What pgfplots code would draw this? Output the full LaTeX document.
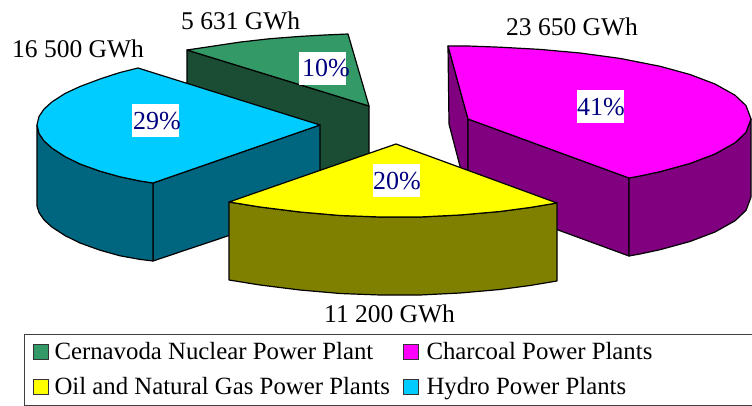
\documentclass[border=0pt]{standalone}
\usepackage{fontspec}
\setmainfont{Liberation Serif}
\usepackage{pgfplots}
\pgfplotsset{compat=1.18}
\definecolor{nuclear}{RGB}{51,153,102}
\definecolor{nucleardark}{RGB}{26,77,51}
\definecolor{charcoal}{RGB}{255,0,255}
\definecolor{charcoaldark}{RGB}{128,0,128}
\definecolor{oilgas}{RGB}{255,255,0}
\definecolor{oilgasdark}{RGB}{128,128,0}
\definecolor{hydro}{RGB}{0,204,255}
\definecolor{hydrodark}{RGB}{0,102,128}
\definecolor{pct}{RGB}{0,0,128}
\newcommand{\lbl}{\fontsize{25.5}{28}\selectfont}
\newcommand{\pctfont}{\fontsize{26}{28}\selectfont}
\newcommand{\legfont}{\fontsize{24.8}{28}\selectfont}
\pgfplotsset{
  slice/.style={draw=black, line width=1.2pt, line join=round, fill=#1, no markers, forget plot},
  pctbox/.style={draw=none, fill=white, no markers, forget plot},
  swatch/.style={legend image code/.code={
      \draw[draw=black!80, line width=1pt, fill=#1] (0pt,-7.5pt) rectangle (15pt,7.5pt);}},
}
\begin{document}
\begin{tikzpicture}
\path[use as bounding box] (0,0) rectangle (752pt,406pt);
\begin{axis}[
  at={(0,0)}, anchor=south west,
  scale only axis, width=752pt, height=406pt,
  xmin=0, xmax=752, ymin=0, ymax=406, y dir=reverse,
  hide axis, clip=false,
  legend columns=2,
  legend cell align=left,
  legend style={
    at={(axis cs:23.5,333.5)}, anchor=north west,
    draw=black!75, line width=1pt, fill=white,
    font=\legfont, inner xsep=8.5pt, inner ysep=5pt,
    nodes={inner sep=0pt, anchor=west, minimum height=26pt},
    /tikz/row sep=9pt, /tikz/column sep=0pt,
  },
]
% Nuclear slice
\addplot[slice=nucleardark] coordinates {(187,50)(369,106)(369,205)(187,140)} -- cycle;
\addplot[slice=nuclear] coordinates {(187,50)(210,46.6)(240,42.1)(270,38.7)(300,36.4)(325,35)(348,34)(369,106)} -- cycle;
% Charcoal slice
\addplot[slice=charcoaldark] coordinates {(448,46)(449,124)(468,197)(468,119)} -- cycle;
\addplot[slice=charcoaldark] coordinates {(468,119)(629,178)(629,256)(468,197)} -- cycle;
\addplot[slice=charcoaldark] coordinates {(629,178)(640,176)(660,171.7)(690,163.5)(715,154)(735,142.8)(746,132.4)(751,119)(751,197)(746,210.4)(735,220.8)(715,232)(690,241.5)(660,249.7)(640,254)(629,256)} -- cycle;
\addplot[slice=charcoal] coordinates {(448,46)(468,46)(500,47.2)(540,49.4)(580,53)(620,58.4)(660,66.3)(690,74.5)(715,84)(735,95.2)(746,105.6)(751,119)(746,132.4)(735,142.8)(715,154)(690,163.5)(660,171.7)(640,176)(629,178)(468,119)} -- cycle;
% Hydro slice
\addplot[slice=hydrodark] coordinates {(153,183)(320,125)(320,205)(153,261)} -- cycle;
\addplot[slice=hydrodark] coordinates {(37,125)(39,133.5)(44,140.9)(52,148.1)(65,156.6)(80,164)(100,171.2)(120,176.8)(140,181)(153,183)(153,261)(140,259.4)(120,255.8)(100,250.2)(80,243)(65,235.6)(52,227.1)(44,219.9)(39,212.5)(37,206)} -- cycle;
\addplot[slice=hydro] coordinates {(138,68)(120,72.5)(100,79)(80,86.5)(65,93.5)(52,101.9)(44,109.1)(39,116.5)(37,125)(39,133.5)(44,140.9)(52,148.1)(65,156.6)(80,164)(100,171.2)(120,176.8)(140,181)(153,183)(320,125)} -- cycle;
% Oil and gas slice
\addplot[slice=oilgasdark] coordinates {(229,202)(260,207)(300,212)(340,215.5)(380,217)(420,217)(460,215)(500,211.5)(530,207.5)(557,203)(557,281)(530,285.5)(500,289.5)(460,293)(420,295)(380,295)(340,293.5)(300,290)(260,285)(229,280)} -- cycle;
\addplot[slice=oilgas] coordinates {(396,144)(229,202)(260,207)(300,212)(340,215.5)(380,217)(420,217)(460,215)(500,211.5)(530,207.5)(557,203)} -- cycle;
% White panels behind the percentages
\addplot[pctbox] coordinates {(299,52)(346,52)(346,85)(299,85)} -- cycle;
\addplot[pctbox] coordinates {(132,104)(179,104)(179,137)(132,137)} -- cycle;
\addplot[pctbox] coordinates {(577,90)(624,90)(624,123)(577,123)} -- cycle;
\addplot[pctbox] coordinates {(373,164)(420,164)(420,197)(373,197)} -- cycle;
% Legend
\addlegendimage{swatch=nuclear}
\addlegendentry{\hspace{6pt}\makebox[348pt][l]{Cernavoda Nuclear Power Plant}}
\addlegendimage{swatch=charcoal}
\addlegendentry{\hspace{8pt}\makebox[320pt][l]{Charcoal Power Plants}}
\addlegendimage{swatch=oilgas}
\addlegendentry{\hspace{6pt}\makebox[348pt][l]{Oil and Natural Gas Power Plants}}
\addlegendimage{swatch=hydro}
\addlegendentry{\hspace{8pt}\makebox[320pt][l]{Hydro Power Plants}}
% Percentages
\begin{scope}[every node/.style={font=\pctfont, text=pct, inner sep=0pt}]
\node[anchor=base west] at (axis cs:302,77) {10\%};
\node[anchor=base west] at (axis cs:133,130) {29\%};
\node[anchor=base west] at (axis cs:577,116) {41\%};
\node[anchor=base west] at (axis cs:373,190) {20\%};
\end{scope}
% Energy figures
\begin{scope}[every node/.style={font=\lbl, text=black, inner sep=0pt}]
\node[anchor=base west] at (axis cs:181,30) {5 631 GWh};
\node[anchor=base west] at (axis cs:12,58) {16 500 GWh};
\node[anchor=base west] at (axis cs:506,36) {23 650 GWh};
\node[anchor=base west] at (axis cs:324,322) {11 200 GWh};
\end{scope}
\end{axis}
\end{tikzpicture}
\end{document}
